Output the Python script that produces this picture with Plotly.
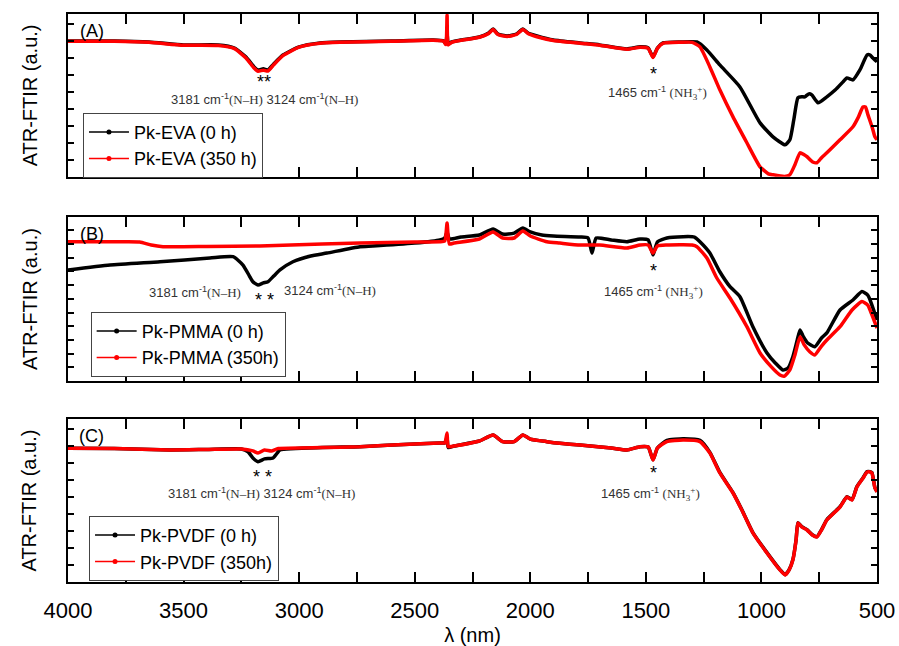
import plotly.graph_objects as go
from plotly.subplots import make_subplots

# ---------------- data (wavenumber axis labelled lambda, a.u.) ----------------
# Panel A : Pk-EVA
a_black_x = [4000, 3800, 3650, 3500, 3350, 3280, 3230, 3195, 3178, 3155, 3135, 3110, 3070, 3000, 2910,
             2823, 2600, 2420, 2375, 2365, 2360, 2355, 2340, 2300, 2220, 2180, 2161, 2140, 2100, 2060,
             2032, 2010, 1971, 1900, 1785, 1700, 1582, 1525, 1490, 1469, 1450, 1426, 1350, 1279, 1236,
             1180, 1093, 1006, 950, 898, 877, 860, 842, 825, 812, 795, 782, 755, 717, 680, 647, 630,
             604, 574, 543, 530, 522, 509, 500]
a_black_y = [83.4, 83.4, 82.8, 81.0, 81.0, 79.1, 73.6, 67.5, 65.6, 66.3, 65.6, 69.3, 74.8, 79.8, 82.2,
             82.8, 83.4, 84.0, 83.4, 81.6, 88.0, 81.6, 82.8, 84.0, 85.9, 88.3, 90.8, 87.7, 86.5, 87.7,
             90.8, 88.3, 86.5, 84.0, 82.2, 81.0, 78.5, 79.8, 79.1, 73.6, 79.1, 82.2, 82.8, 82.8, 77.9,
             68.7, 55.2, 33.1, 24.5, 19.6, 22.7, 35.0, 48.5, 49.1, 49.1, 50.9, 50.3, 45.4, 49.1, 53.4,
             58.3, 60.7, 59.5, 65.6, 74.8, 74.8, 73.6, 71.8, 70.6]
a_red_x = [4000, 3800, 3650, 3500, 3350, 3280, 3230, 3195, 3178, 3155, 3135, 3110, 3070, 3000, 2910,
           2823, 2600, 2420, 2375, 2365, 2360, 2355, 2340, 2300, 2220, 2180, 2161, 2140, 2100, 2060,
           2032, 2010, 1971, 1900, 1785, 1700, 1582, 1525, 1490, 1469, 1450, 1426, 1350, 1300, 1266,
           1223, 1180, 1123, 1063, 1006, 970, 950, 900, 877, 855, 833, 815, 803, 780, 760, 740, 717,
           660, 604, 580, 561, 550, 539, 520, 509, 500]
a_red_y = [83.2, 83.2, 82.6, 80.8, 80.6, 78.7, 73.0, 66.8, 64.8, 65.5, 64.9, 68.8, 74.4, 79.6, 82.0,
           82.6, 83.2, 83.8, 83.2, 81.2, 99.5, 81.0, 82.6, 83.8, 85.7, 88.0, 90.5, 87.4, 86.2, 87.4,
           90.5, 88.0, 86.0, 83.7, 82.0, 80.8, 78.3, 79.6, 78.9, 73.2, 78.9, 82.0, 82.6, 82.6, 79.8,
           67.5, 53.4, 36.8, 20.9, 6.1, 1.8, 1.2, 0.2, 1.2, 7.4, 14.7, 13.5, 12.3, 9.2, 8.6, 11.7, 14.7,
           22.7, 30.7, 36.8, 42.9, 42.9, 38.0, 30.0, 24.5, 22.7]

# Panel B : Pk-PMMA
b_black_x = [4000, 3818, 3602, 3386, 3286, 3243, 3215, 3200, 3178, 3155, 3135, 3110, 3083, 3027, 2950,
             2880, 2737, 2681, 2500, 2391, 2370, 2360, 2350, 2300, 2220, 2161, 2120, 2070, 2032, 2000,
             1950, 1900, 1785, 1750, 1733, 1715, 1650, 1582, 1525, 1490, 1469, 1450, 1409, 1339, 1290,
             1266, 1223, 1180, 1136, 1093, 1037, 976, 940, 907, 885, 864, 845, 833, 820, 800, 769, 740,
             717, 660, 604, 565, 540, 530, 500]
b_black_y = [67.7, 70.7, 72.7, 75.0, 75.8, 70.7, 64.0, 60.5, 58.5, 59.8, 60.5, 64.0, 67.7, 72.7, 76.2,
             78.0, 81.9, 82.3, 84.1, 86.0, 87.2, 90.9, 86.6, 87.8, 89.0, 92.7, 89.6, 90.2, 93.3, 90.9,
             89.0, 88.4, 87.8, 87.2, 78.0, 87.2, 86.0, 84.9, 86.6, 86.0, 76.8, 84.8, 87.2, 88.0, 87.8,
             84.9, 78.0, 66.6, 57.5, 51.4, 33.1, 17.1, 11.0, 6.7, 7.9, 14.8, 25.0, 31.1, 27.4, 23.2, 20.9,
             26.2, 29.3, 43.3, 49.4, 54.5, 52.4, 49.4, 37.2]
b_red_x = [4000, 3800, 3690, 3640, 3589, 3400, 3170, 2900, 2737, 2500, 2391, 2370, 2360, 2350, 2330,
           2220, 2161, 2120, 2070, 2032, 2000, 1928, 1872, 1785, 1700, 1582, 1525, 1490, 1469, 1450,
           1409, 1300, 1279, 1236, 1193, 1136, 1063, 1006, 960, 920, 900, 877, 855, 833, 815, 790, 769,
           740, 717, 660, 608, 565, 540, 530, 500]
b_red_y = [84.9, 84.9, 84.8, 82.9, 81.9, 82.0, 82.3, 83.5, 84.1, 84.8, 84.9, 85.4, 96.3, 83.5, 84.1,
           86.6, 90.9, 87.2, 87.2, 91.5, 88.4, 84.9, 84.1, 82.9, 82.9, 81.1, 82.9, 82.9, 78.0, 82.3,
           82.9, 82.9, 81.9, 75.0, 62.8, 50.6, 33.1, 17.1, 9.1, 3.7, 3.0, 6.7, 15.9, 27.0, 22.0, 17.7,
           15.9, 21.3, 25.0, 33.1, 43.3, 48.4, 46.3, 43.3, 32.3]

# Panel C : Pk-PVDF
c_black_x = [4000, 3800, 3559, 3400, 3250, 3221, 3200, 3178, 3150, 3113, 3095, 3083, 2900, 2737, 2500,
             2391, 2370, 2360, 2355, 2330, 2220, 2161, 2120, 2070, 2032, 2000, 1928, 1872, 1785, 1650,
             1582, 1525, 1490, 1469, 1450, 1409, 1339, 1266, 1223, 1180, 1123, 1085, 1037, 976, 920,
             898, 880, 864, 850, 842, 825, 803, 780, 760, 740, 717, 660, 630, 608, 587, 560, 543, 530,
             522, 509, 500]
c_black_y = [82.0, 81.9, 81.0, 81.3, 81.6, 79.9, 76.1, 73.8, 75.5, 76.1, 79.1, 81.0, 82.5, 83.0, 84.7,
             85.3, 85.3, 88.5, 82.5, 83.4, 86.5, 90.2, 86.1, 86.1, 90.2, 87.7, 86.1, 85.1, 84.0, 82.2,
             81.0, 83.0, 82.8, 75.0, 82.2, 86.9, 87.9, 86.9, 79.5, 67.2, 54.8, 44.4, 30.3, 18.0, 7.6,
             4.5, 7.6, 13.7, 26.0, 36.4, 33.9, 32.1, 29.0, 27.8, 32.1, 38.2, 46.2, 52.3, 50.5, 58.5,
             64.0, 67.7, 67.7, 67.1, 57.9, 55.4]
c_red_x = [4000, 3800, 3559, 3400, 3250, 3200, 3178, 3150, 3120, 3090, 2900, 2737, 2500, 2391, 2370,
           2360, 2355, 2330, 2220, 2161, 2120, 2070, 2032, 2000, 1928, 1872, 1785, 1650, 1582, 1525,
           1490, 1469, 1450, 1409, 1339, 1266, 1223, 1180, 1123, 1085, 1037, 976, 920, 898, 880, 864,
           850, 842, 825, 803, 780, 760, 740, 717, 660, 630, 608, 587, 560, 543, 530, 522, 509, 500]
c_red_y = [82.0, 81.9, 81.0, 81.3, 81.6, 80.4, 79.1, 81.0, 80.4, 81.9, 82.5, 83.0, 84.7, 85.3, 85.3,
           91.4, 83.0, 83.4, 86.5, 90.2, 86.1, 86.1, 90.2, 87.7, 86.1, 85.1, 84.0, 82.2, 81.0, 83.0,
           82.8, 74.8, 82.2, 86.1, 87.1, 86.1, 79.1, 66.9, 54.6, 44.2, 30.1, 17.8, 7.4, 4.3, 7.4, 13.5,
           25.8, 36.2, 33.7, 31.9, 28.8, 27.6, 31.9, 38.0, 46.0, 52.1, 50.3, 58.3, 63.8, 67.5, 67.5,
           66.9, 57.7, 55.2]

panel_labels = ["(A)", "(B)", "(C)"]
legend_names = [("Pk-EVA (0 h)", "Pk-EVA (350 h)"),
                ("Pk-PMMA (0 h)", "Pk-PMMA (350h)"),
                ("Pk-PVDF (0 h)", "Pk-PVDF (350h)")]
x_ticks = [4000, 3500, 3000, 2500, 2000, 1500, 1000, 500]
y_dticks = [10.43, 8.35, 10.43]

series = [(a_black_x, a_black_y, a_red_x, a_red_y),
          (b_black_x, b_black_y, b_red_x, b_red_y),
          (c_black_x, c_black_y, c_red_x, c_red_y)]

FONT = "Arial, Liberation Sans, sans-serif"
SERIF = "Times New Roman, Liberation Serif, serif"

fig = make_subplots(rows=3, cols=1, shared_xaxes=False, vertical_spacing=0.07)

legend_keys = ["legend", "legend2", "legend3"]
for i, (bx, by, rx, ry) in enumerate(series):
    row = i + 1
    fig.add_trace(go.Scatter(x=bx, y=by, mode="lines", line=dict(color="black", width=3.5, shape="spline", smoothing=0.5),
                             showlegend=False, hoverinfo="skip"), row=row, col=1)
    fig.add_trace(go.Scatter(x=rx, y=ry, mode="lines", line=dict(color="#ff0000", width=3.5, shape="spline", smoothing=0.5),
                             showlegend=False, hoverinfo="skip"), row=row, col=1)
    # legend samples
    fig.add_trace(go.Scatter(x=[None], y=[None], mode="lines+markers", name=legend_names[i][0],
                             line=dict(color="black", width=1.5), marker=dict(size=5, color="black"),
                             legend=legend_keys[i]), row=row, col=1)
    fig.add_trace(go.Scatter(x=[None], y=[None], mode="lines+markers", name=legend_names[i][1],
                             line=dict(color="#ff0000", width=1.5), marker=dict(size=5, color="#ff0000"),
                             legend=legend_keys[i]), row=row, col=1)

domains = [[0.7135, 1.0], [0.3539, 0.6426], [0.0, 0.2870]]
for i in range(3):
    xa = "xaxis" if i == 0 else f"xaxis{i+1}"
    ya = "yaxis" if i == 0 else f"yaxis{i+1}"
    fig.layout[xa].update(
        range=[4000, 500], tickmode="array", tickvals=x_ticks, ticktext=[str(v) for v in x_ticks],
        showticklabels=(i == 2), ticks="inside", ticklen=10, tickwidth=1.5, tickcolor="black",
        minor=dict(ticks="inside", ticklen=10, tickwidth=1.5, tickcolor="black", dtick=250, tick0=0, showgrid=False),
        showline=True, linewidth=2, linecolor="black", mirror="ticks", showgrid=False, zeroline=False,
        tickfont=dict(family=FONT, size=22, color="black"), ticklabelstandoff=8, automargin=False)
    fig.layout[ya].update(
        domain=domains[i], range=[0, 100], tick0=0, dtick=y_dticks[i], showticklabels=False,
        ticks="inside", ticklen=6, tickwidth=1.5, tickcolor="black", automargin=False,
        showline=True, linewidth=2, linecolor="black", mirror="ticks", showgrid=False, zeroline=False)

fig.layout.xaxis3.title = dict(text="λ (nm)", font=dict(family=FONT, size=20, color="black"), standoff=10)

legend_pos = [(0.0185, 0.826), (0.028, 0.4756), (0.026, 0.1164)]
for i, key in enumerate(legend_keys):
    fig.layout[key] = dict(x=legend_pos[i][0], y=legend_pos[i][1], xanchor="left", yanchor="top",
                           bgcolor="white", bordercolor="#444", borderwidth=1,
                           font=dict(family=FONT, size=18, color="black"), tracegroupgap=0, itemwidth=40)

annotations = []
yrefs = ["y", "y2", "y3"]
panel_centers = [(0.7135 + 1.0) / 2, (0.3539 + 0.6426) / 2, 0.2870 / 2]
for i in range(3):
    annotations.append(dict(x=3898, y=89.5, xref="x" if i == 0 else f"x{i+1}", yref=yrefs[i], text=panel_labels[i],
                            showarrow=False, font=dict(family=FONT, size=18, color="black")))
    annotations.append(dict(x=-0.047, y=panel_centers[i], xref="paper", yref="paper", text="ATR-FTIR (a.u.)",
                            textangle=-90, showarrow=False, xanchor="center", yanchor="middle",
                            font=dict(family=FONT, size=20, color="black")))

nh = f"<span style='font-family:{SERIF}'>(N–H)</span>"
nh3 = f"<span style='font-family:{SERIF}'>(NH<sub>3</sub><sup>+</sup>)</span>"
ann_font = dict(family=FONT, size=13, color="#333")
star_font = dict(family=FONT, size=18, color="black")
# Panel A
annotations += [
    dict(x=3150, y=58.5, xref="x", yref="y", text="**", showarrow=False, font=star_font),
    dict(x=3148, y=48.0, xref="x", yref="y", text=f"3181 cm<sup>-1</sup>{nh} 3124 cm<sup>-1</sup>{nh}", showarrow=False, font=ann_font),
    dict(x=1465, y=63.0, xref="x", yref="y", text="*", showarrow=False, font=star_font),
    dict(x=1448, y=51.5, xref="x", yref="y", text=f"1465 cm<sup>-1</sup> {nh3}", showarrow=False, font=ann_font),
]
# Panel B
annotations += [
    dict(x=3451, y=54.3, xref="x2", yref="y2", text=f"3181 cm<sup>-1</sup>{nh}", showarrow=False, font=ann_font),
    dict(x=3152, y=49.5, xref="x2", yref="y2", text="* *", showarrow=False, font=star_font),
    dict(x=2867, y=55.5, xref="x2", yref="y2", text=f"3124 cm<sup>-1</sup>{nh}", showarrow=False, font=ann_font),
    dict(x=1465, y=67.0, xref="x2", yref="y2", text="*", showarrow=False, font=star_font),
    dict(x=1469, y=54.0, xref="x2", yref="y2", text=f"1465 cm<sup>-1</sup> {nh3}", showarrow=False, font=ann_font),
]
# Panel C
annotations += [
    dict(x=3158, y=64.5, xref="x3", yref="y3", text="* *", showarrow=False, font=star_font),
    dict(x=3165, y=54.5, xref="x3", yref="y3", text=f"3181 cm<sup>-1</sup>{nh} 3124 cm<sup>-1</sup>{nh}", showarrow=False, font=ann_font),
    dict(x=1465, y=67.0, xref="x3", yref="y3", text="*", showarrow=False, font=star_font),
    dict(x=1478, y=53.8, xref="x3", yref="y3", text=f"1465 cm<sup>-1</sup> {nh3}", showarrow=False, font=ann_font),
]

fig.update_layout(width=899, height=646, margin=dict(l=68, r=22, t=14, b=64, autoexpand=False),
                  plot_bgcolor="white", paper_bgcolor="white", annotations=annotations,
                  font=dict(family=FONT, color="black"))

fig.write_html("out.html")
